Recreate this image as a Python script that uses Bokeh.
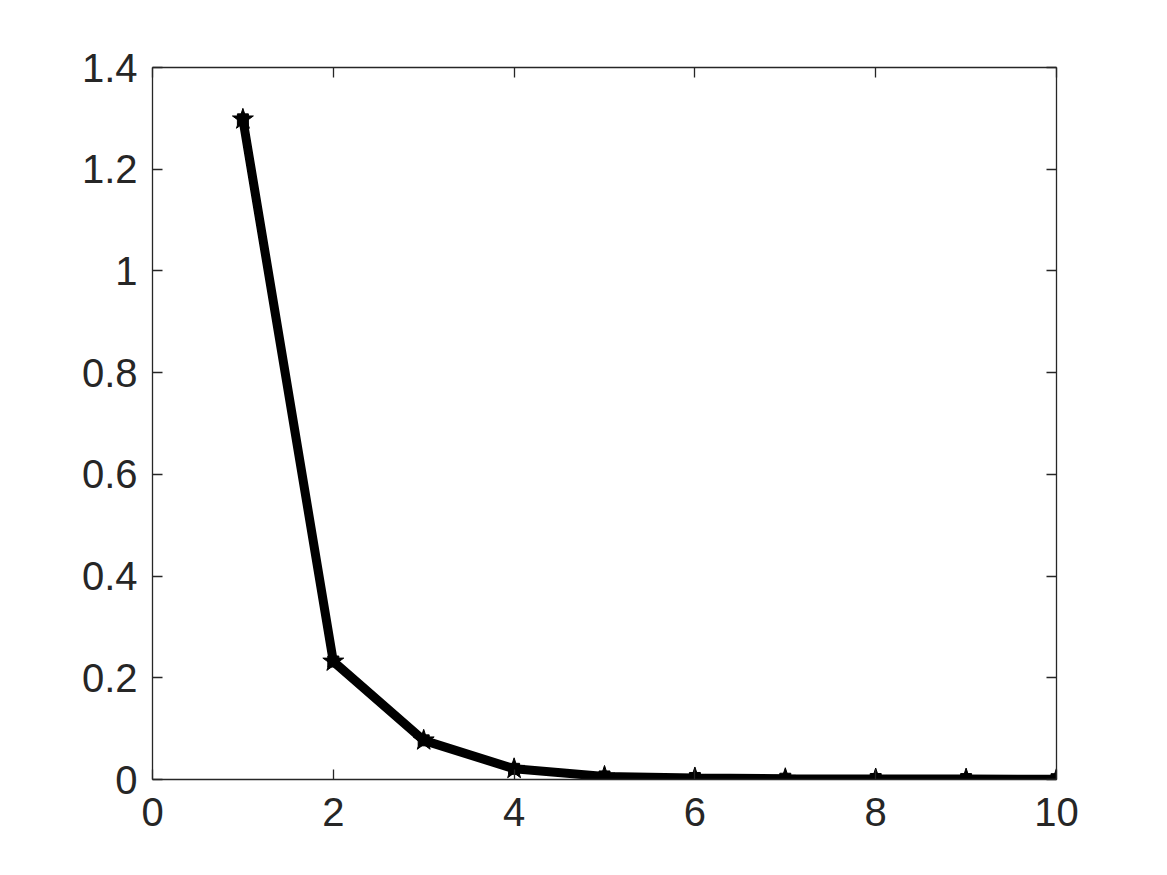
from bokeh.plotting import figure
from bokeh.models import LinearAxis, FixedTicker, Range1d
from bokeh.embed import file_html
from bokeh.resources import INLINE

x_vals = [1, 2, 3, 4, 5, 6, 7, 8, 9, 10]
y_vals = [1.298, 0.232, 0.077, 0.021, 0.006, 0.003, 0.0015, 0.001, 0.0008, 0.0006]
x_ticks = [0, 2, 4, 6, 8, 10]
y_ticks = [0, 0.2, 0.4, 0.6, 0.8, 1.0, 1.2, 1.4]

p = figure(output_backend="svg", toolbar_location=None,
           frame_width=904, frame_height=712,
           x_range=Range1d(0, 10), y_range=Range1d(0, 1.4),
           min_border_left=152, min_border_top=67, min_border_right=90, min_border_bottom=80,
           x_axis_location=None, y_axis_location=None)
p.outline_line_color = None
p.grid.visible = False
p.background_fill_color = "white"
p.border_fill_color = "white"

def style(ax, labels=True):
    ax.axis_line_color = "#262626"
    ax.axis_line_width = 1.3
    ax.major_tick_line_color = "#262626"
    ax.major_tick_line_width = 1.3
    ax.major_tick_in = 10
    ax.major_tick_out = 0
    ax.minor_tick_line_color = None
    ax.major_label_text_font = "Liberation Sans"
    ax.major_label_text_font_size = "40px"
    ax.major_label_text_color = "#262626"
    if not labels:
        ax.major_label_text_font_size = "0px"
        ax.major_label_text_alpha = 0

xb = LinearAxis(ticker=FixedTicker(ticks=x_ticks))
style(xb)
xb.major_label_standoff = 18
p.add_layout(xb, "below")
xt = LinearAxis(ticker=FixedTicker(ticks=x_ticks))
style(xt, False)
p.add_layout(xt, "above")
yl = LinearAxis(ticker=FixedTicker(ticks=y_ticks))
style(yl)
yl.major_label_standoff = 15
yl.major_label_overrides = {0: "0", 1.0: "1"}
p.add_layout(yl, "left")
yr = LinearAxis(ticker=FixedTicker(ticks=y_ticks))
style(yr, False)
p.add_layout(yr, "right")

p.line(x_vals, y_vals, line_color="black", line_width=9)
p.scatter(x_vals, y_vals, marker="star", size=22, fill_color="black", line_color="black")
p.scatter(x_vals, y_vals, marker="square", size=11, fill_color="black", line_color="black")

open("out.html", "w").write(file_html(p, INLINE))
